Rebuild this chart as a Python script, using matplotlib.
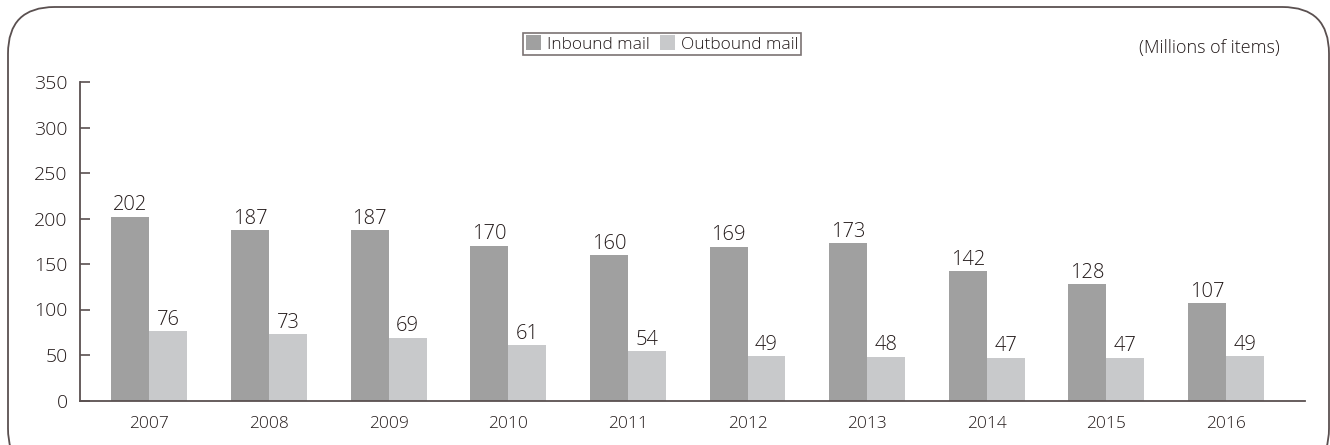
import numpy as np
import matplotlib
matplotlib.use('Agg')
import matplotlib.pyplot as plt
from matplotlib.patches import FancyBboxPatch, Patch

plt.rcParams['font.family'] = ['Open Sans', 'DejaVu Sans']
plt.rcParams['font.weight'] = 'light'

years = ["2007", "2008", "2009", "2010", "2011", "2012", "2013", "2014", "2015", "2016"]
inbound = [202, 187, 187, 170, 160, 169, 173, 142, 128, 107]
outbound = [76, 73, 69, 61, 54, 49, 48, 47, 47, 49]

text_color = "#231a1a"
axis_color = "#5a5050"
in_color = "#a0a0a0"
out_color = "#c8c9cb"

W, H = 1330, 445
fig = plt.figure(figsize=(W / 100, H / 100), dpi=100)

# rounded outer frame
frame = FancyBboxPatch((8 / W, -30 / H), 1321 / W, (H - 7 + 30) / H,
                       boxstyle="round,pad=0,rounding_size=0.035",
                       transform=fig.transFigure, fill=False,
                       edgecolor=axis_color, linewidth=1.3,
                       mutation_aspect=W / H)
fig.patches.append(frame)

ax = fig.add_axes([80 / W, 44.5 / H, 1225 / W, 318.5 / H])

x = np.arange(len(years))
bw = 0.317
b1 = ax.bar(x - bw / 2, inbound, bw, color=in_color, label="Inbound mail")
b2 = ax.bar(x + bw / 2, outbound, bw, color=out_color, label="Outbound mail")

for bars, vals in ((b1, inbound), (b2, outbound)):
    for b, v in zip(bars, vals):
        ax.text(b.get_x() + b.get_width() / 2, v + 1.5, str(v),
                ha="center", va="bottom", fontsize=14.5, color=text_color)

ax.set_xlim(-0.58, 9.66)
ax.set_ylim(0, 350)
ax.set_yticks(range(0, 351, 50))
ax.set_xticks(x)
ax.set_xticklabels(years)

for s in ("top", "right"):
    ax.spines[s].set_visible(False)
for s in ("left", "bottom"):
    ax.spines[s].set_color(axis_color)
    ax.spines[s].set_linewidth(1.3)

ax.tick_params(axis="y", direction="in", length=7, width=1.2, color=axis_color,
               labelsize=14, labelcolor=text_color, pad=9)
ax.tick_params(axis="x", length=0, labelsize=12.5, labelcolor=text_color, pad=11)

leg = fig.legend(handles=[Patch(facecolor=in_color, label="Inbound mail"),
                          Patch(facecolor=out_color, label="Outbound mail")],
                 loc="center", bbox_to_anchor=(662 / W, 1 - 44 / H),
                 ncol=2, frameon=True, fancybox=False, fontsize=12.5,
                 handlelength=0.9, handleheight=0.9, handletextpad=0.3,
                 columnspacing=0.6, borderpad=0.15, labelcolor=text_color)
leg.get_frame().set_edgecolor(axis_color)
leg.get_frame().set_linewidth(1.2)

fig.text(1280 / W, 1 - 48 / H, "(Millions of items)", ha="right", va="center",
         fontsize=13, color=text_color)

fig.savefig("out.png", dpi=100)
plt.close(fig)
